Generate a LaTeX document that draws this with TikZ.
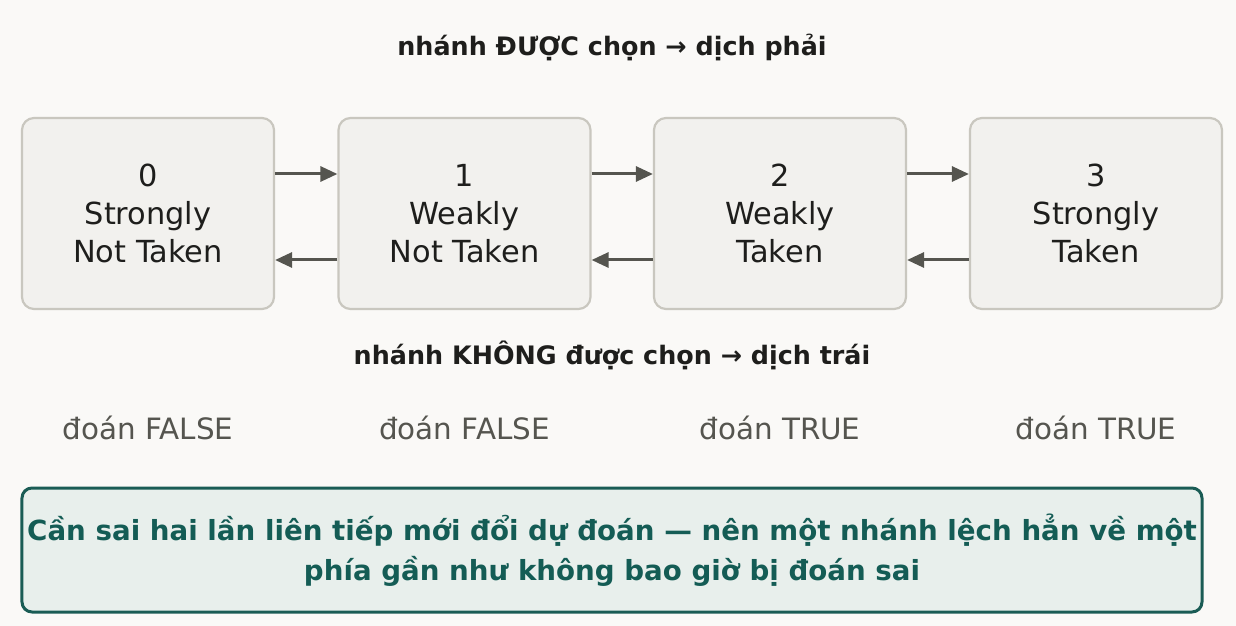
\documentclass[tikz,border=0pt]{standalone}
\usepackage{fontspec}
\setmainfont{DejaVu Sans}
\newfontfamily\notefont{DejaVu Sans}
\usetikzlibrary{arrows.meta}
\definecolor{bg}{HTML}{FAF9F7}
\definecolor{boxfill}{HTML}{F2F1EE}
\definecolor{boxline}{HTML}{C9C7BF}
\definecolor{txt}{HTML}{1E1E1C}
\definecolor{arrcol}{HTML}{55554F}
\definecolor{guesscol}{HTML}{55554F}
\definecolor{notefill}{HTML}{E8EFEC}
\definecolor{noteline}{HTML}{1A5C55}
\definecolor{notetext}{HTML}{145C55}
\begin{document}
\begin{tikzpicture}[x=1bp,y=-1bp,
  state/.style={draw=boxline, fill=boxfill, line width=2.2bp, rounded corners=12bp,
    minimum width=252bp, minimum height=191bp, align=center, inner sep=0pt,
    font=\fontsize{30.5}{38.5}\selectfont, text=txt},
  arr/.style={draw=arrcol, line width=3bp, -{Triangle[length=17bp,width=15bp]}},
  head/.style={font=\bfseries\fontsize{25.5}{28}\selectfont, text=txt},
  guess/.style={font=\fontsize{29.5}{32}\selectfont, text=guesscol},
  note/.style={draw=noteline, fill=notefill, line width=3bp, rounded corners=10bp,
    minimum width=1180bp, minimum height=124bp, align=center, inner sep=0pt,
    font=\notefont\bfseries\fontsize{27.8}{40}\selectfont, text=notetext}]
\fill[bg] (0,0) rectangle (1236,626);
\useasboundingbox (0,0) rectangle (1236,626);

\node[head] (top) at (612,47) {nhánh ĐƯỢC chọn → dịch phải};

\node[state] (s0) at (148,213.5) {0\\Strongly\\Not Taken};
\node[state] (s1) at (464.5,213.5) {1\\Weakly\\Not Taken};
\node[state] (s2) at (780,213.5) {2\\Weakly\\Taken};
\node[state] (s3) at (1096,213.5) {3\\Strongly\\Taken};

\foreach \a/\b in {s0/s1, s1/s2, s2/s3}{
  \draw[arr] ([yshift=39.5bp]\a.east) -- ([yshift=39.5bp]\b.west);
  \draw[arr] ([yshift=-46.5bp]\b.west) -- ([yshift=-46.5bp]\a.east);
}

\node[head] (bot) at (612,355) {nhánh KHÔNG được chọn → dịch trái};

\node[guess] (g0) at (148,428) {đoán FALSE};
\node[guess] (g1) at (464.5,428) {đoán FALSE};
\node[guess] (g2) at (780,428) {đoán TRUE};
\node[guess] (g3) at (1096,428) {đoán TRUE};

\node[note] (n) at (612,550) {Cần sai hai lần liên tiếp mới đổi dự đoán — nên một nhánh lệch hẳn về một\\phía gần như không bao giờ bị đoán sai};
\end{tikzpicture}
\end{document}
